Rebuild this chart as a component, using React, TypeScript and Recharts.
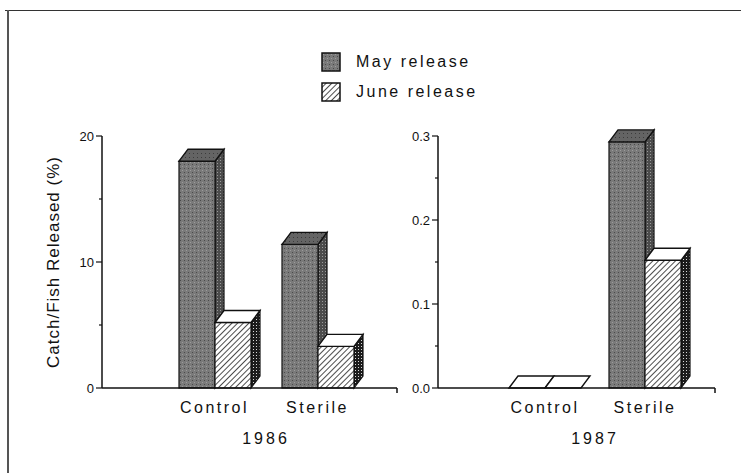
import React from 'react';
import { BarChart, Bar, XAxis, YAxis } from 'recharts';

// values
const categories = ['Control', 'Sterile'];
const may1986 = [18.0, 11.4];
const june1986 = [5.2, 3.3];
const may1987 = [0, 0.293];
const june1987 = [0, 0.152];

const ticks1986 = [0, 5, 10, 15, 20];
const labels1986 = [0, 10, 20];
const ticks1987 = [0, 0.05, 0.1, 0.15, 0.2, 0.25, 0.3];
const labels1987 = [0, 0.1, 0.2, 0.3];

const data1986 = categories.map((name, i) => ({ name, may: may1986[i], june: june1986[i] }));
const data1987 = categories.map((name, i) => ({ name, may: may1987[i], june: june1987[i] }));

const FONT = '"Liberation Sans", Arial, Helvetica, sans-serif';
const INK = '#111';
const DX = 9;
const DY = 12;

const Patterns = () => (
  <svg width={0} height={0} style={{ position: 'absolute' }}>
    <defs>
      <pattern id="mayFront" width={4} height={4} patternUnits="userSpaceOnUse">
        <rect width={4} height={4} fill="#7a7a7a" />
        <rect x={0} y={0} width={1} height={1} fill="#4a4a4a" />
        <rect x={2} y={2} width={1} height={1} fill="#9c9c9c" />
      </pattern>
      <pattern id="mayTop" width={4} height={4} patternUnits="userSpaceOnUse">
        <rect width={4} height={4} fill="#646464" />
        <rect x={1} y={1} width={1} height={1} fill="#3c3c3c" />
      </pattern>
      <pattern id="maySide" width={3} height={3} patternUnits="userSpaceOnUse">
        <rect width={3} height={3} fill="#4c4c4c" />
        <rect x={1} y={1} width={1} height={1} fill="#9a9a9a" />
      </pattern>
      <pattern id="juneFront" width={4} height={4} patternUnits="userSpaceOnUse" patternTransform="rotate(45)">
        <rect width={4} height={4} fill="#fff" />
        <line x1={0} y1={0} x2={0} y2={4} stroke={INK} strokeWidth={1.5} />
      </pattern>
      <pattern id="juneSide" width={3} height={3} patternUnits="userSpaceOnUse">
        <rect width={3} height={3} fill="#1c1c1c" />
        <rect x={1} y={1} width={1} height={1} fill="#d8d8d8" />
      </pattern>
    </defs>
  </svg>
);

const make3D = (front: string, top: string, side: string) => (props: any) => {
  const { x, y, width, height } = props;
  if (x == null || y == null) return null;
  const topPath = `M${x},${y} L${x + DX},${y - DY} L${x + width + DX},${y - DY} L${x + width},${y} Z`;
  const sidePath = `M${x + width},${y} L${x + width + DX},${y - DY} L${x + width + DX},${y + height - DY} L${x + width},${y + height} Z`;
  const solid = height > 0;
  return (
    <g>
      {solid && <path d={sidePath} fill={side} stroke={INK} strokeWidth={1.2} />}
      {solid && <rect x={x} y={y} width={width} height={height} fill={front} stroke={INK} strokeWidth={1.2} />}
      <path d={topPath} fill={solid ? top : '#fff'} stroke={INK} strokeWidth={1.4} />
    </g>
  );
};

const mayShape = make3D('url(#mayFront)', 'url(#mayTop)', 'url(#maySide)');
const juneShape = make3D('url(#juneFront)', '#fff', 'url(#juneSide)');

const makeYTick = (labels: number[], fmt: (v: number) => string) => (props: any) => {
  const { x, y, payload } = props;
  const major = labels.includes(payload.value);
  return (
    <g>
      <line x1={x - (major ? 6 : 3)} x2={x} y1={y} y2={y} stroke={INK} strokeWidth={1.2} />
      {major && (
        <text x={x - 8} y={y} dy={4.5} textAnchor="end" fontSize={13} fontFamily={FONT} fill={INK}>
          {fmt(payload.value)}
        </text>
      )}
    </g>
  );
};

const XTick = (props: any) => {
  const { x, y, payload } = props;
  return (
    <text x={x} y={y} dy={25} textAnchor="middle" fontSize={16} letterSpacing={2.5} fontFamily={FONT} fill={INK}>
      {payload.value}
    </text>
  );
};

const makeYear = (year: string, padL: number, padR: number) => (props: any) => {
  const vb = props.viewBox;
  if (!vb) return null;
  const cx = vb.x + padL + (vb.width - padL - padR) / 2;
  const end = vb.x + vb.width;
  return (
    <g>
      <line x1={end} x2={end} y1={vb.y} y2={vb.y + 5} stroke={INK} strokeWidth={1.5} />
      <text x={cx} y={vb.y + 56} textAnchor="middle" fontSize={16} letterSpacing={3} fontFamily={FONT} fill={INK}>
        {year}
      </text>
    </g>
  );
};

const yTitle = (props: any) => {
  const vb = props.viewBox;
  if (!vb) return null;
  const cx = vb.x + 11;
  const cy = vb.y + vb.height / 2;
  return (
    <text x={cx} y={cy} transform={`rotate(-90 ${cx} ${cy})`} dy={6} textAnchor="middle" fontSize={17} letterSpacing={1} fontFamily={FONT} fill={INK}>
      Catch/Fish Released (%)
    </text>
  );
};

const pad86 = { left: 61, right: 28 };
const pad87 = { left: 57, right: 20 };

const LegendRow = ({ fill, label }: { fill: string; label: string }) => (
  <div style={{ display: 'flex', alignItems: 'center', height: 30 }}>
    <svg width={20} height={20}>
      <rect x={1} y={1} width={18} height={18} fill={fill} stroke={INK} strokeWidth={1.5} />
    </svg>
    <span style={{ marginLeft: 15, fontSize: 16, letterSpacing: 2.5, color: INK }}>{label}</span>
  </div>
);

export default function App() {
  return (
    <div style={{ position: 'absolute', left: 0, top: 0, width: 741, height: 473, background: '#fff', fontFamily: FONT, overflow: 'hidden' }}>
      <Patterns />
      <div style={{ position: 'absolute', left: 5, top: 10, width: 736, height: 463, borderTop: '1.5px solid #333' }} />
      <div style={{ position: 'absolute', left: 7, top: 10, width: 0, height: 463, borderLeft: '2px solid #555' }} />

      <div style={{ position: 'absolute', left: 321, top: 47 }}>
        <LegendRow fill="url(#mayFront)" label="May release" />
        <LegendRow fill="url(#juneFront)" label="June release" />
      </div>

      <div style={{ position: 'absolute', left: 0, top: 0 }}>
        <BarChart width={420} height={473} data={data1986} margin={{ top: 136, right: 23, bottom: 55, left: 42 }} barSize={36} barGap={0}>
          <XAxis dataKey="name" padding={pad86} height={30} tickLine={false} tickSize={0} tickMargin={0} axisLine={{ stroke: INK, strokeWidth: 1.5 }} tick={<XTick />} label={{ content: makeYear('1986', pad86.left, pad86.right) }} />
          <YAxis domain={[0, 20]} ticks={ticks1986} width={60} tickLine={false} tickSize={0} tickMargin={0} axisLine={{ stroke: INK, strokeWidth: 1.5 }} tick={makeYTick(labels1986, (v) => String(v))} label={{ content: yTitle }} />
          <Bar dataKey="may" name="May release" shape={mayShape} isAnimationActive={false} />
          <Bar dataKey="june" name="June release" shape={juneShape} isAnimationActive={false} />
        </BarChart>
      </div>

      <div style={{ position: 'absolute', left: 370, top: 0 }}>
        <BarChart width={371} height={473} data={data1987} margin={{ top: 136, right: 26, bottom: 55, left: 28 }} barSize={36} barGap={0}>
          <XAxis dataKey="name" padding={pad87} height={30} tickLine={false} tickSize={0} tickMargin={0} axisLine={{ stroke: INK, strokeWidth: 1.5 }} tick={<XTick />} label={{ content: makeYear('1987', pad87.left, pad87.right) }} />
          <YAxis domain={[0, 0.3]} ticks={ticks1987} width={40} tickLine={false} tickSize={0} tickMargin={0} axisLine={{ stroke: INK, strokeWidth: 1.5 }} tick={makeYTick(labels1987, (v) => v.toFixed(1))} />
          <Bar dataKey="may" name="May release" shape={mayShape} isAnimationActive={false} />
          <Bar dataKey="june" name="June release" shape={juneShape} isAnimationActive={false} />
        </BarChart>
      </div>
    </div>
  );
}
